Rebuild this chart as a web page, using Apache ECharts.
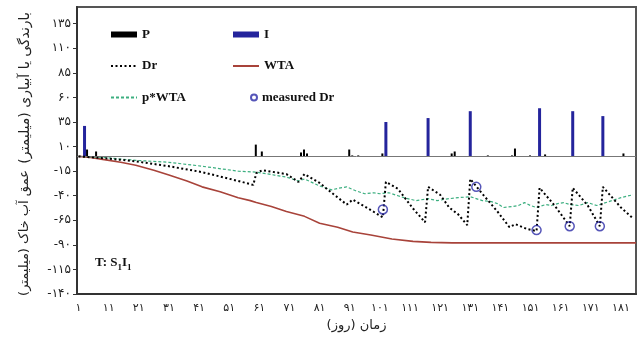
<!DOCTYPE html>
<html><head><meta charset="utf-8">
<script src="https://cdn.jsdelivr.net/npm/echarts@6/dist/echarts.min.js"></script>
<style>html,body{margin:0;padding:0;background:#fff}#c{width:639px;height:345px}</style>
</head><body><div id="c"></div>
<script>
// ---- data ----
const xTickDays = [1, 11, 21, 31, 41, 51, 61, 71, 81, 91, 101, 111, 121, 131, 141, 151, 161, 171, 181];

const pDays = [4, 7, 60, 62, 75, 76, 77, 91, 92, 94, 102, 125, 126, 137, 145, 146, 151, 156, 182];
const pVals = [7, 5, 12, 5, 4, 7, 3, 7, 1, 1, 3, 3, 5, 1, 1, 8, 1, 2, 3];

const iDays = [3, 103, 117, 131, 154, 165, 175];
const iVals = [31, 35, 39, 46, 49, 46, 41];

const drDays = [1, 10, 20, 31, 42, 54, 59, 60, 62, 70, 74, 76, 81, 85, 90, 92, 96, 102, 103, 107, 112, 116, 117, 121, 124, 127, 130, 131, 135, 140, 144, 146, 150, 153, 154, 159, 164, 165, 170, 174, 175, 179, 181, 185];
const drVals = [0, -2, -5, -10, -16, -25, -29, -17, -14, -18, -26, -18, -27, -37, -49, -44, -51, -62, -26, -33, -53, -67, -31, -39, -52, -59, -70, -23, -38, -56, -72, -69, -74, -76, -32, -50, -71, -32, -50, -71, -31, -45, -52, -63];

const wtaDays = [1, 5, 9, 15, 20, 26, 31, 37, 42, 48, 54, 58, 60, 65, 70, 76, 81, 87, 92, 98, 105, 112, 118, 125, 186];
const wtaVals = [0, -1, -3, -6, -9, -14, -19, -25, -31, -36, -42, -45, -47, -51, -56, -61, -68, -72, -77, -80, -84, -86.5, -87.5, -88, -88];

const pwDays = [1, 9, 20, 31, 42, 54, 60, 66, 70, 74, 76, 81, 85, 88, 90, 93, 96, 99, 101, 104, 107, 109, 113, 117, 120, 124, 127, 131, 135, 138, 140, 142, 145, 147, 149, 151, 153, 156, 158, 160, 162, 164, 167, 170, 173, 175, 178, 181, 185];
const pwVals = [0, -1, -4, -6, -10, -15, -16, -19, -21, -25, -23, -30, -34, -32, -31, -35, -38, -37, -38, -37, -40, -42, -45, -43, -45, -43, -42, -41, -45, -46, -48, -52, -51, -50, -47, -50, -52, -49, -50, -48, -47, -49, -50, -47, -50, -48, -45, -42, -39];

const mDays = [102, 133, 153, 164, 174];
const mVals = [-54, -31, -75, -71, -71];

// ---- chart ----
const fa = v => String(v).replace(/\d/g, d => '۰۱۲۳۴۵۶۷۸۹'[+d]);
const pair = (xs, ys) => xs.map((x, i) => [x, ys[i]]);
const legendText = {fontFamily: 'Liberation Serif', fontWeight: 'bold', fontSize: 13, color: '#111'};
const faFont = 'DejaVu Sans';
const noSym = {opacity: 0};

const chart = echarts.init(document.getElementById('c'), null, {renderer: 'canvas'});
chart.setOption({
  animation: false,
  backgroundColor: '#fff',
  grid: {left: 77, right: 3, top: 7, bottom: 51, show: true, borderColor: '#555', borderWidth: 2, backgroundColor: 'transparent'},
  xAxis: {
    type: 'value', min: 0.5, max: 186,
    axisLine: {show: true, onZero: false, lineStyle: {color: '#333', width: 2}},
    axisTick: {show: false}, splitLine: {show: false},
    axisLabel: {customValues: xTickDays, formatter: v => fa(v), fontFamily: faFont, fontSize: 11, color: '#222', margin: 9},
    name: 'زمان (روز)', nameLocation: 'middle', nameGap: 24,
    nameTextStyle: {fontFamily: faFont, fontSize: 13, color: '#222'}
  },
  yAxis: {
    type: 'value', min: -140, max: 152, interval: 25,
    axisLine: {show: true, onZero: false, lineStyle: {color: '#333', width: 2}},
    axisTick: {show: true, length: 4, lineStyle: {color: '#333'}},
    splitLine: {show: false},
    axisLabel: {showMaxLabel: false, formatter: v => fa(v), fontFamily: faFont, fontSize: 12, color: '#222', margin: 6}
  },
  legend: [
    {left: 110, top: 28, padding: 0, orient: 'vertical', itemGap: 18.5, itemWidth: 26, itemHeight: 6,
     data: [{name: 'P', icon: 'rect'}, {name: 'Dr', itemStyle: noSym}, {name: 'p*WTA', itemStyle: noSym}], textStyle: legendText},
    {left: 232, top: 28, padding: 0, orient: 'vertical', itemGap: 18.5, itemWidth: 26, itemHeight: 6,
     data: [{name: 'I', icon: 'rect'}, {name: 'WTA', itemStyle: noSym}], textStyle: legendText},
    {left: 250, top: 91, padding: 0, itemWidth: 6, itemHeight: 6,
     data: ['measured Dr'], textStyle: legendText}
  ],
  graphic: [
    {type: 'text', x: 25, y: 88, rotation: Math.PI / 2,
     style: {text: '\u200Fبارندگی یا آبیاری (میلیمتر)\u200F', font: '14px "DejaVu Sans"', fill: '#222', align: 'center', verticalAlign: 'middle'}},
    {type: 'text', x: 25, y: 233, rotation: Math.PI / 2,
     style: {text: '\u200Fعمق آب خاک (میلیمتر)\u200F', font: '13px "DejaVu Sans"', fill: '#222', align: 'center', verticalAlign: 'middle'}},
    {type: 'text', x: 95, y: 256,
     style: {text: '{a|T: S}{s|1}{a|I}{s|1}',
       rich: {a: {fontFamily: 'Liberation Serif', fontWeight: 'bold', fontSize: 13, lineHeight: 16, verticalAlign: 'top', fill: '#111'},
              s: {fontFamily: 'Liberation Serif', fontWeight: 'bold', fontSize: 9, lineHeight: 16, verticalAlign: 'bottom', fill: '#111'}}}}
  ],
  series: [
    {name: 'P', type: 'bar', data: pair(pDays, pVals), barWidth: 2, barGap: '-100%', itemStyle: {color: '#000'}, z: 2},
    {name: 'I', type: 'bar', data: pair(iDays, iVals), barWidth: 3, barGap: '-100%', itemStyle: {color: '#24249c'}, z: 2},
    {name: 'WTA', type: 'line', data: pair(wtaDays, wtaVals), symbol: 'none', lineStyle: {color: '#a8433a', width: 1.6}, z: 3,
     markLine: {silent: true, symbol: 'none', label: {show: false}, lineStyle: {color: '#777', width: 1, type: 'solid'}, data: [{yAxis: 0}]}},
    {name: 'p*WTA', type: 'line', data: pair(pwDays, pwVals), symbol: 'none', lineStyle: {color: '#3daf80', width: 1.2, type: [3, 2]}, z: 4},
    {name: 'Dr', type: 'line', data: pair(drDays, drVals), symbol: 'none', lineStyle: {color: '#000', width: 2, type: [2, 2.5]}, z: 5},
    {name: 'measured Dr', type: 'scatter', data: pair(mDays, mVals), symbol: 'circle', symbolSize: 9,
     itemStyle: {color: 'rgba(255,255,255,0)', borderColor: '#2b2ba6', borderWidth: 1.5}, z: 6}
  ]
});
</script></body></html>
